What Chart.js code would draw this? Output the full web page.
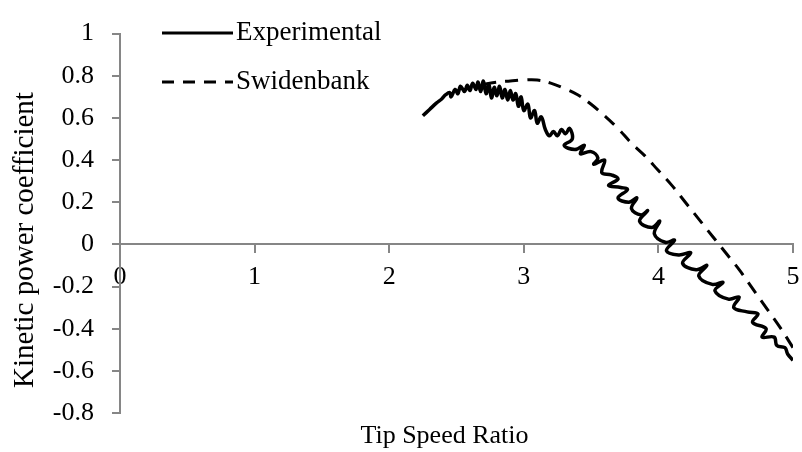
<!DOCTYPE html>
<html>
<head>
<meta charset="utf-8">
<script src="https://cdn.jsdelivr.net/npm/chart.js@4/dist/chart.umd.min.js"></script>
<style>
  body { margin: 0; background: #fff; }
  #wrap { width: 802px; height: 452px; position: relative; }
</style>
</head>
<body>
<div id="wrap"><canvas id="tsrChart"></canvas></div>
<script>
let expX = [2.25, 2.30, 2.35, 2.39, 2.42, 2.45, 2.46, 2.49, 2.51, 2.53, 2.56, 2.58, 2.60, 2.62, 2.645, 2.66,
    2.68, 2.70, 2.72, 2.74, 2.76, 2.78, 2.80, 2.82, 2.84, 2.86, 2.88, 2.90, 2.92, 2.94, 2.96, 2.98,
    3.00, 3.03, 3.05, 3.08, 3.10, 3.13, 3.16, 3.19, 3.22, 3.25, 3.28, 3.31, 3.34, 3.36, 3.30, 3.38,
    3.45, 3.42, 3.50, 3.55, 3.52, 3.60, 3.58, 3.65, 3.70, 3.63, 3.72, 3.77, 3.70, 3.78, 3.84, 3.80,
    3.87, 3.92, 3.86, 3.95, 4.01, 3.97, 4.05, 4.12, 4.06, 4.15, 4.24, 4.18, 4.28, 4.36, 4.30, 4.40,
    4.48, 4.42, 4.52, 4.60, 4.56, 4.66, 4.74, 4.70, 4.80, 4.77, 4.86, 4.88, 4.94, 4.96, 5.00];
let expY = [0.61, 0.64, 0.67, 0.69, 0.71, 0.72, 0.70, 0.735, 0.715, 0.75, 0.725, 0.755, 0.73, 0.765, 0.735, 0.77,
    0.725, 0.775, 0.715, 0.76, 0.695, 0.745, 0.705, 0.75, 0.695, 0.735, 0.685, 0.73, 0.685, 0.715, 0.655, 0.70,
    0.635, 0.665, 0.60, 0.635, 0.575, 0.605, 0.545, 0.515, 0.535, 0.515, 0.545, 0.525, 0.55, 0.50, 0.47, 0.45,
    0.47, 0.43, 0.44, 0.41, 0.38, 0.40, 0.34, 0.33, 0.31, 0.28, 0.27, 0.26, 0.22, 0.20, 0.22, 0.17,
    0.14, 0.16, 0.11, 0.08, 0.11, 0.05, 0.01, 0.02, -0.03, -0.05, -0.04, -0.09, -0.12, -0.10, -0.15, -0.19,
    -0.18, -0.22, -0.26, -0.25, -0.30, -0.32, -0.33, -0.37, -0.40, -0.44, -0.44, -0.48, -0.49, -0.52, -0.55];

let swidX = [2.7, 2.8, 2.9, 3.0, 3.1, 3.2, 3.3, 3.4, 3.5, 3.6, 3.7, 3.8, 3.9, 4.0, 4.1, 4.2, 4.3, 4.4, 4.5, 4.6, 4.7, 4.8, 4.9, 5.0];
let swidY = [0.76, 0.77, 0.775, 0.78, 0.78, 0.765, 0.74, 0.71, 0.665, 0.61, 0.55, 0.48, 0.42, 0.35, 0.28, 0.20, 0.12, 0.04, -0.04, -0.12, -0.21, -0.30, -0.39, -0.49];

let seriesNames = ["Experimental", "Swidenbank"];
let xTitle = "Tip Speed Ratio";
let yTitle = "Kinetic power coefficient";

let fontFamily = "'Liberation Serif', 'Times New Roman', serif";
let axisGrey = '#868686';

function toPoints(xs, ys){
    return xs.map((x, i) => ({x: x, y: ys[i]}));
}

// legend sits inside the plot, top left, like the excel original; axis titles drawn here too
const insideLegend = {
    id: 'insideLegend',
    afterDraw(chart){
        const ctx = chart.ctx;
        const area = chart.chartArea;
        const rows = [
            {label: seriesNames[0], dash: [], y: 33},
            {label: seriesNames[1], dash: [12, 9], y: 82}
        ];
        ctx.save();
        rows.forEach((row) => {
            ctx.beginPath();
            ctx.setLineDash(row.dash);
            ctx.lineWidth = 3;
            ctx.strokeStyle = '#000';
            ctx.moveTo(162, row.y);
            ctx.lineTo(233, row.y);
            ctx.stroke();
            ctx.setLineDash([]);
            ctx.fillStyle = '#000';
            ctx.font = '27px ' + fontFamily;
            ctx.textBaseline = 'middle';
            ctx.textAlign = 'left';
            ctx.fillText(row.label, 236, row.y);
        });

        ctx.textAlign = 'center';
        ctx.textBaseline = 'middle';
        ctx.font = '26px ' + fontFamily;
        ctx.fillText(xTitle, (area.left + area.right) / 2 - 12, 436);

        ctx.translate(25, 240);
        ctx.rotate(-Math.PI / 2);
        ctx.font = '29px ' + fontFamily;
        ctx.fillText(yTitle, 0, 0);
        ctx.restore();
    }
};

var ctx = document.getElementById('tsrChart').getContext('2d');
let chart = new Chart(ctx, {
    type: 'line',
    data: {
        datasets: [{
            label: seriesNames[0],
            data: toPoints(expX, expY),
            borderColor: '#000',
            borderWidth: 3.5,
            pointRadius: 0,
            tension: 0.4,
            fill: false
        },
        {
            label: seriesNames[1],
            data: toPoints(swidX, swidY),
            borderColor: '#000',
            borderWidth: 3,
            borderDash: [13, 9],
            pointRadius: 0,
            tension: 0.4,
            fill: false
        }]
    },
    options: {
        responsive: true,
        maintainAspectRatio: false,
        animation: false,
        layout: {
            padding: {top: 19, right: 9, left: 0, bottom: 39}
        },
        plugins: {
            legend: {display: false},
            tooltip: {enabled: false}
        },
        scales: {
            x: {
                type: 'linear',
                position: {y: 0},
                min: 0,
                max: 5,
                afterFit(scale){
                    scale.paddingLeft = 0;
                    scale.paddingRight = 0;
                },
                ticks: {
                    stepSize: 1,
                    color: '#000',
                    padding: 9,
                    font: {family: fontFamily, size: 26}
                },
                grid: {
                    drawOnChartArea: false,
                    color: axisGrey,
                    lineWidth: 2,
                    tickLength: 8
                },
                border: {color: axisGrey, width: 2}
            },
            y: {
                min: -0.8,
                max: 1,
                afterFit(scale){
                    scale.width = 120;
                },
                ticks: {
                    stepSize: 0.2,
                    color: '#000',
                    padding: 18,
                    font: {family: fontFamily, size: 26},
                    callback: (v) => Number(v.toFixed(1)).toString()
                },
                grid: {
                    drawOnChartArea: false,
                    color: axisGrey,
                    lineWidth: 2,
                    tickLength: 8
                },
                border: {color: axisGrey, width: 2}
            }
        }
    },
    plugins: [insideLegend]
});
</script>
</body>
</html>
